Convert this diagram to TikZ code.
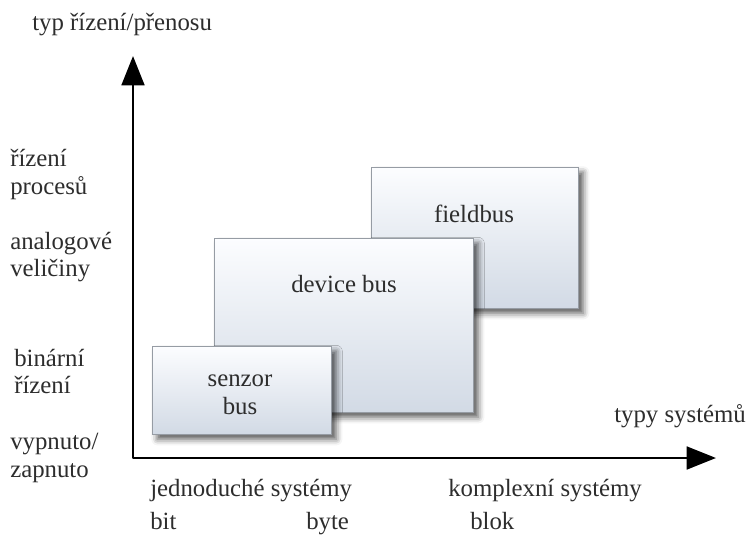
\documentclass[tikz,border=0pt]{standalone}
\usepackage{fontspec}
\setmainfont{Liberation Serif}
\usetikzlibrary{arrows.meta,shadows.blur}
\definecolor{txt}{RGB}{45,45,45}
\definecolor{boxtop}{RGB}{252,253,255}
\definecolor{boxbot}{RGB}{210,218,229}
\definecolor{boxline}{RGB}{150,156,164}
\tikzset{
  x=0.75pt, y=-0.75pt,
  lbl/.style={font=\fontsize{18.6}{20.5}\selectfont, text=txt, inner sep=0pt, align=left},
  boxlbl/.style={lbl, align=center},
  busbox/.style={draw=boxline, line width=0.6pt, top color=boxtop, bottom color=boxbot,
    inner sep=0pt, outer sep=0pt,
    blur shadow={shadow xshift=4pt, shadow yshift=-4pt, shadow blur radius=4.5pt, shadow opacity=65}},
  axis/.style={line width=2.2pt, line join=round, {Triangle[length=22pt,width=17pt]}-{Triangle[length=22pt,width=17pt]}},
}
\begin{document}
\begin{tikzpicture}
\useasboundingbox (0,0) rectangle (746,535);

% boxes, back to front
\node[busbox, minimum width=155.25pt, minimum height=105.75pt] (field) at (474.5,237.5) {};
\node[busbox, minimum width=194.25pt, minimum height=130.5pt] (device) at (343.5,325) {};
\node[busbox, minimum width=134.25pt, minimum height=66pt] (senzor) at (241.5,390) {};

\node[boxlbl, anchor=base] (fieldlbl) at (474,222) {fieldbus};
\node[boxlbl, anchor=base] (devicelbl) at (344,292) {device bus};
\node[boxlbl, anchor=base] (senzorlbl1) at (240,386) {senzor};
\node[boxlbl, anchor=base] (senzorlbl2) at (240,414) {bus};

% axes
\coordinate (ytip) at (133,56);
\coordinate (origin) at (133,458);
\coordinate (xtip) at (716,458);
\draw[axis] (ytip) -- (origin) -- (xtip);

% axis titles
\node[lbl, anchor=base west] (ytitle) at (32,31) {typ řízení/přenosu};
\node[lbl, anchor=base west] (xtitle) at (614,422) {typy systémů};

% vertical scale
\node[lbl, anchor=base west] (l1) at (10,166) {řízení};
\node[lbl, anchor=base west] (l2) at (10,194) {procesů};
\node[lbl, anchor=base west] (l3) at (10,249) {analogové};
\node[lbl, anchor=base west] (l4) at (10,276) {veličiny};
\node[lbl, anchor=base west] (l5) at (14,366) {binární};
\node[lbl, anchor=base west] (l6) at (14,393) {řízení};
\node[lbl, anchor=base west] (l7) at (10,449) {vypnuto/};
\node[lbl, anchor=base west] (l8) at (10,477) {zapnuto};

% horizontal scale
\node[lbl, anchor=base west] (h1) at (150,496) {jednoduché systémy};
\node[lbl, anchor=base west] (h2) at (448,496) {komplexní systémy};
\node[lbl, anchor=base west] (h3) at (150,529) {bit};
\node[lbl, anchor=base west] (h4) at (306,529) {byte};
\node[lbl, anchor=base west] (h5) at (470,529) {blok};
\end{tikzpicture}
\end{document}
